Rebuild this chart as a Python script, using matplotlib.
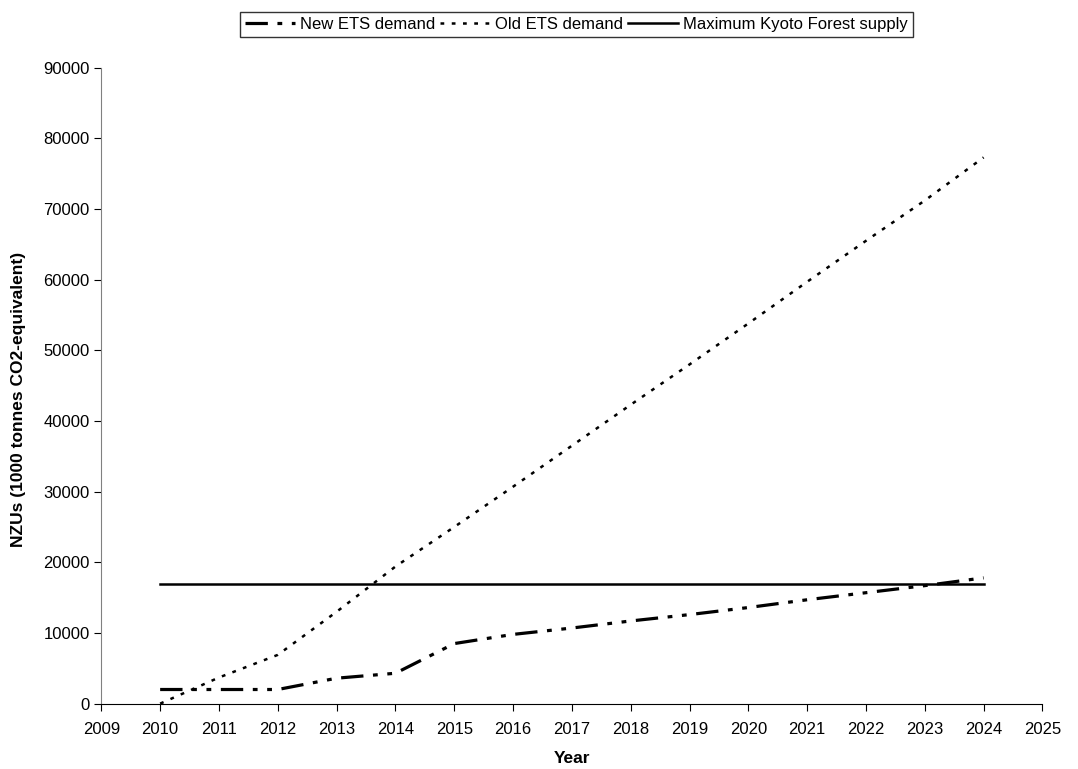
import numpy as np
import matplotlib.pyplot as plt

plt.rcParams["font.family"] = ["Liberation Sans", "DejaVu Sans"]

years = [2010, 2011, 2012, 2013, 2014, 2015, 2016, 2017, 2018, 2019, 2020, 2021, 2022, 2023, 2024]
new_ets = [2000, 2000, 2000, 3600, 4300, 8500, 9800, 10700, 11700, 12600, 13600, 14700, 15700, 16700, 17800]
old_ets = [0, 3700, 6900, 13000, 19400, 25000, 30700, 36500, 42300, 48000, 53800, 59700, 65500, 71200, 77300]
kyoto = [16900] * 15

fig = plt.figure(figsize=(10.78, 7.69), dpi=100)
ax = fig.add_axes([0.094, 0.085, 0.873, 0.827])

ax.plot(years, new_ets, color="black", lw=2.3, linestyle=(0, (7, 3, 1.5, 3, 1.5, 3)), label="New ETS demand")
ax.plot(years, old_ets, color="black", lw=1.8, linestyle=(0, (1.5, 3)), label="Old ETS demand")
ax.plot(years, kyoto, color="black", lw=1.8, label="Maximum Kyoto Forest supply")

ax.set_xlim(2009, 2025)
ax.set_ylim(0, 90000)
ax.set_xticks(range(2009, 2026))
ax.set_yticks(range(0, 90001, 10000))
ax.tick_params(labelsize=12, direction="out", length=5)
ax.tick_params(axis="x", pad=8)
ax.spines["top"].set_visible(False)
ax.spines["right"].set_visible(False)
ax.spines["left"].set_color("#808080")

ax.set_xlabel("Year", fontsize=12.5, fontweight="bold", labelpad=10)
ax.set_ylabel("NZUs (1000 tonnes CO2-equivalent)", fontsize=12.5, fontweight="bold")
ax.yaxis.set_label_coords(-0.08, 0.478)

leg = fig.legend(loc="upper center", bbox_to_anchor=(0.535, 0.995), ncol=3, fontsize=12,
                 frameon=True, fancybox=False, edgecolor="black", handlelength=3,
                 columnspacing=0.3, handletextpad=0.3, borderpad=0.3)
leg.get_frame().set_linewidth(1)

fig.savefig("out.png", dpi=100)
